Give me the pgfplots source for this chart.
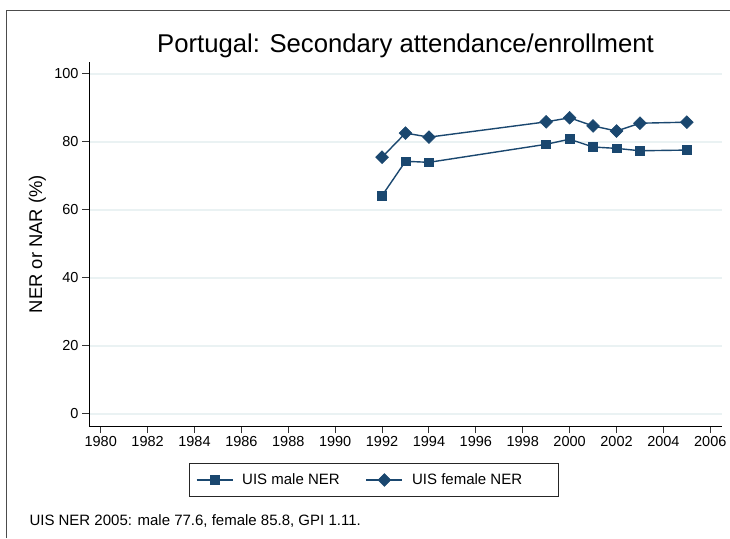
\documentclass[border=0pt]{standalone}
\usepackage{fontspec}
\setmainfont{Liberation Sans}
\usepackage{pgfplots}
\pgfplotsset{compat=1.18}
\definecolor{stnavy}{RGB}{26,71,111}
\definecolor{stgrid}{RGB}{234,242,243}
\begin{document}
\begin{tikzpicture}[x=1pt,y=1pt]
\useasboundingbox (0,0) rectangle (730,538);
\fill[white] (0,0) rectangle (730,538);
\draw[black!70, line width=1pt] (6.3,0) -- (6.3,527) -- (730,527);
\begin{axis}[
  at={(89pt,112pt)}, anchor=south west,
  scale only axis, width=633pt, height=364pt,
  xmin=1979.5, xmax=2006.5, ymin=-3.53, ymax=103.5,
  axis x line*=bottom, axis y line*=left,
  axis line style={line width=1pt, -},
  xtick={1980,1982,...,2006}, ytick={0,20,...,100},
  tick align=outside, major tick length=7pt,
  tick style={line width=1pt, black!80},
  ymajorgrids, major grid style={stgrid, line width=1.3pt},
  tick label style={font=\fontsize{14.5}{17}\selectfont},
  /pgf/number format/assume math mode=true,
  x tick label style={/pgf/number format/1000 sep={}},
  legend columns=2,
  legend style={at={(0.4502,-0.1484)}, anchor=center, draw=black!85, line width=0.8pt,
    inner xsep=6pt, inner ysep=8pt, font=\fontsize{15}{18}\selectfont,
    /tikz/every odd column/.append style={column sep=7pt},
    /tikz/every even column/.append style={column sep=24pt}},
  legend image code/.code={\draw[mark repeat=2,mark phase=2] plot coordinates {(0pt,0pt) (18pt,0pt) (36pt,0pt)};},
]
\addplot[stnavy, line width=1.4pt, mark=square*, mark size=4.4pt, mark options={line width=0.6pt}] coordinates {
(1992,64.2) (1993,74.3) (1994,74.0) (1999,79.3) (2000,80.8) (2001,78.5) (2002,78.1) (2003,77.4) (2005,77.6)};
\addlegendentry{UIS male NER}
\addplot[stnavy, line width=1.4pt, mark=square*, mark size=4.5pt, mark options={rotate=45, line width=0.6pt}] coordinates {
(1992,75.5) (1993,82.6) (1994,81.4) (1999,85.9) (2000,87.1) (2001,84.7) (2002,83.2) (2003,85.5) (2005,85.8)};
\addlegendentry{\makebox[138pt][l]{UIS female NER}}
\end{axis}
\node[anchor=base, font=\fontsize{25.7}{30}\selectfont, inner sep=0] at (405.5,485) {Portugal: Secondary attendance/enrollment};
\node[rotate=90, anchor=base, font=\fontsize{18.4}{22}\selectfont, inner sep=0] at (42,294) {NER or NAR (\%)};
\node[anchor=base west, inner sep=0, font=\fontsize{15}{18}\selectfont] at (29.3,13) {UIS NER 2005: male 77.6, female 85.8, GPI 1.11.};
\end{tikzpicture}
\end{document}
